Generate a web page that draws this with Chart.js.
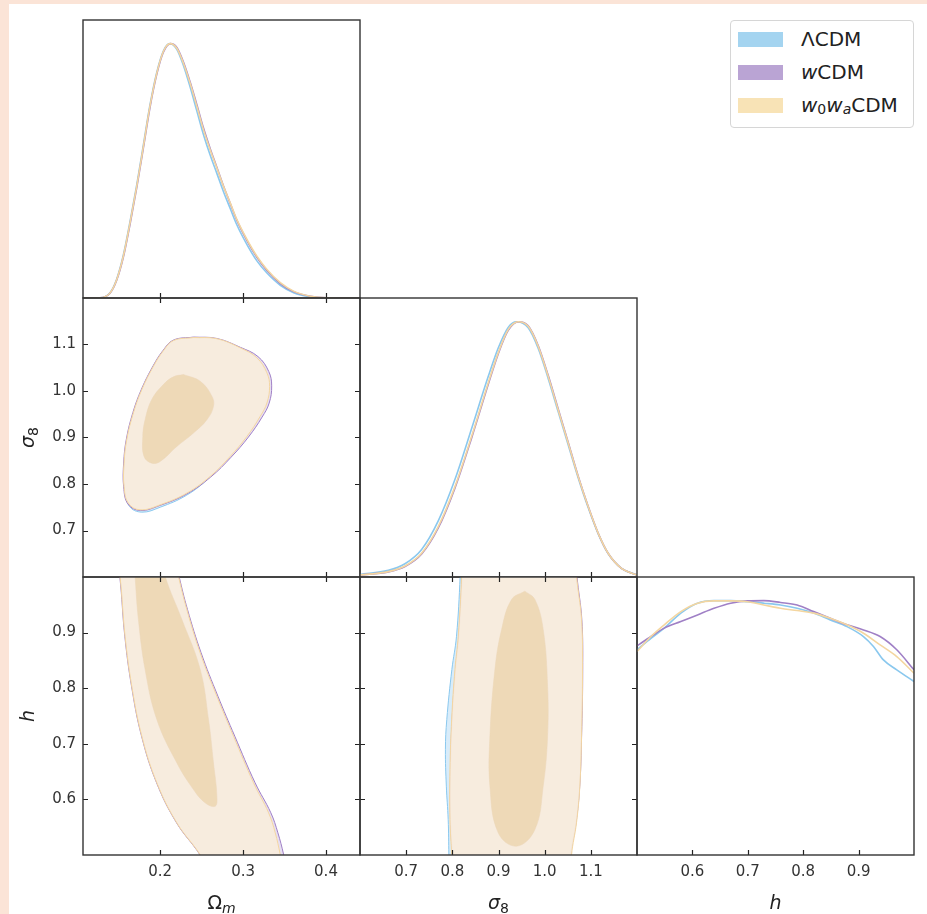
<!DOCTYPE html>
<html>
<head>
<meta charset="utf-8">
<script src="https://cdn.jsdelivr.net/npm/chart.js@4.4.1/dist/chart.umd.min.js"></script>
<style>
  body { margin: 0; background: #fff; }
  #page { position: relative; width: 927px; height: 914px; overflow: hidden; background: #fff; font-family: 'DejaVu Sans', sans-serif; }
  #page canvas { position: absolute; }
  .edge-left { position: absolute; left: 0; top: 0; width: 9px; height: 914px; background: #fbe4d7; }
  .edge-top { position: absolute; left: 0; top: 0; width: 927px; height: 4px; background: #fbe4d7; }
  #legend { position: absolute; left: 730px; top: 20px; width: 182px; height: 106px; border: 1px solid #d6d6d6; border-radius: 4px; background: #fff; z-index: 5; }
  .row { position: absolute; left: 7px; height: 26px; display: flex; align-items: center; font-size: 20px; color: #222; white-space: nowrap; }
  .patch { width: 45px; height: 15px; margin-right: 18px; flex: none; }
  .row sub { font-size: 14px; position: relative; top: 4px; vertical-align: baseline; }
</style>
</head>
<body>
<div id="page">
  <div class="edge-left"></div>
  <div class="edge-top"></div>
  <div id="legend">
    <div class="row" style="top:5px"><span class="patch" style="background:rgb(164,212,240)"></span>ΛCDM</div>
    <div class="row" style="top:38px"><span class="patch" style="background:rgb(186,164,212)"></span><i>w</i>CDM</div>
    <div class="row" style="top:71px"><span class="patch" style="background:rgb(248,227,182)"></span><i>w</i><sub>0</sub><i>w</i><sub><i>a</i></sub>CDM</div>
  </div>
</div>
<script>
// axes
const omRange = [0.107, 0.441];
const s8Range = [0.6, 1.2];
const hRange = [0.5, 1.0];
const pdfRange = [0, 1.093];
const omTicks = [0.2, 0.3, 0.4];
const s8Ticks = [0.7, 0.8, 0.9, 1.0, 1.1];
const hTicks = [0.6, 0.7, 0.8, 0.9];

// series order: LCDM, wCDM, w0waCDM
const lineColors = ['rgb(138,200,238)', 'rgb(160,128,198)', 'rgb(244,214,160)'];
const outerFills = ['rgba(212,234,249,0.9)', 'rgba(228,219,240,0.9)', 'rgba(249,237,221,0.93)'];
const innerFills = ['rgba(168,212,242,0.9)', 'rgba(196,176,222,0.9)', 'rgba(237,216,182,0.97)'];

// 1D marginals [value, density]
const omPdfLcdm = [[0.107,0],[0.1275,0.001],[0.1396,0.021],[0.1477,0.075],[0.1556,0.168],[0.1637,0.300],[0.1718,0.445],[0.1798,0.602],[0.1877,0.758],[0.196,0.888],[0.2039,0.971],[0.2115,1.0],[0.2201,0.978],[0.2281,0.914],[0.2361,0.830],[0.2443,0.735],[0.2523,0.642],[0.2603,0.562],[0.2684,0.490],[0.2764,0.418],[0.2845,0.352],[0.2926,0.287],[0.3047,0.210],[0.3167,0.146],[0.3288,0.098],[0.3449,0.050],[0.3609,0.021],[0.3811,0.005],[0.4013,0.001],[0.441,0]];
const omPdfWcdm = [[0.107,0],[0.1275,0.001],[0.1396,0.019],[0.1477,0.071],[0.1556,0.160],[0.1637,0.290],[0.1718,0.434],[0.1798,0.590],[0.1877,0.748],[0.196,0.880],[0.2039,0.966],[0.2125,1.0],[0.2201,0.985],[0.2281,0.928],[0.2361,0.850],[0.2443,0.760],[0.2523,0.668],[0.2603,0.588],[0.2684,0.514],[0.2764,0.440],[0.2845,0.372],[0.2926,0.305],[0.3047,0.226],[0.3167,0.160],[0.3288,0.108],[0.3449,0.057],[0.3609,0.025],[0.3811,0.007],[0.4013,0.001],[0.441,0]];
const omPdfW0wa = [[0.107,0],[0.1275,0.001],[0.1396,0.020],[0.1477,0.073],[0.1556,0.164],[0.1637,0.295],[0.1718,0.439],[0.1798,0.596],[0.1877,0.753],[0.196,0.884],[0.2039,0.969],[0.212,1.0],[0.2201,0.982],[0.2281,0.923],[0.2361,0.845],[0.2443,0.753],[0.2523,0.661],[0.2603,0.583],[0.2684,0.511],[0.2764,0.439],[0.2845,0.374],[0.2926,0.308],[0.3047,0.230],[0.3167,0.164],[0.3288,0.112],[0.3449,0.060],[0.3609,0.027],[0.3811,0.007],[0.4013,0.001],[0.441,0]];

const s8PdfLcdm = [[0.6,0.010],[0.6613,0.026],[0.6974,0.052],[0.7335,0.108],[0.7695,0.220],[0.8056,0.382],[0.8418,0.582],[0.8777,0.785],[0.8994,0.897],[0.921,0.978],[0.939,1.0],[0.9643,0.976],[0.9859,0.896],[1.0076,0.778],[1.0292,0.648],[1.0509,0.518],[1.0725,0.389],[1.0942,0.272],[1.1158,0.170],[1.1374,0.092],[1.1664,0.034],[1.2,0.008]];
const s8PdfWcdm = [[0.6,0.008],[0.6613,0.020],[0.6974,0.041],[0.7335,0.090],[0.7695,0.192],[0.8056,0.348],[0.8418,0.545],[0.8777,0.754],[0.8994,0.874],[0.921,0.966],[0.944,1.0],[0.9643,0.984],[0.9859,0.907],[1.0076,0.790],[1.0292,0.659],[1.0509,0.528],[1.0725,0.396],[1.0942,0.277],[1.1158,0.172],[1.1374,0.093],[1.1664,0.034],[1.2,0.008]];
const s8PdfW0wa = [[0.6,0.008],[0.6613,0.021],[0.6974,0.043],[0.7335,0.093],[0.7695,0.197],[0.8056,0.354],[0.8418,0.551],[0.8777,0.760],[0.8994,0.878],[0.921,0.969],[0.9427,1.0],[0.9643,0.982],[0.9859,0.904],[1.0076,0.786],[1.0292,0.655],[1.0509,0.525],[1.0725,0.394],[1.0942,0.276],[1.1158,0.172],[1.1374,0.093],[1.1664,0.034],[1.2,0.008]];

const hPdfLcdm = [[0.5,0.807],[0.5252,0.852],[0.5492,0.892],[0.5791,0.951],[0.6092,0.990],[0.639,1.0],[0.6691,1.0],[0.6991,0.996],[0.729,0.990],[0.759,0.983],[0.789,0.970],[0.8189,0.951],[0.8489,0.924],[0.879,0.898],[0.9088,0.859],[0.9268,0.820],[0.9448,0.767],[0.9689,0.728],[1.0,0.682]];
const hPdfWcdm = [[0.5,0.822],[0.5252,0.859],[0.5492,0.892],[0.5791,0.918],[0.6092,0.944],[0.639,0.970],[0.6691,0.990],[0.6991,0.999],[0.729,1.0],[0.759,0.993],[0.789,0.983],[0.8189,0.957],[0.8489,0.931],[0.879,0.905],[0.9088,0.885],[0.9388,0.859],[0.9689,0.807],[1.0,0.728]];
const hPdfW0wa = [[0.5,0.800],[0.5252,0.859],[0.5492,0.905],[0.5791,0.957],[0.6092,0.990],[0.639,0.999],[0.6691,0.999],[0.6991,0.996],[0.729,0.983],[0.759,0.970],[0.789,0.961],[0.8189,0.951],[0.8489,0.931],[0.879,0.905],[0.9088,0.872],[0.9388,0.826],[0.9689,0.780],[1.0,0.715]];

// 2D contours [x, y]: 95% (outer) and 68% (inner)
const omS8OuterLcdm = [[0.2402,1.1145],[0.2684,1.1120],[0.2966,1.0900],[0.3160,1.0680],[0.3270,1.0370],[0.3295,1.0080],[0.3255,0.9720],[0.3175,0.9440],[0.3020,0.9010],[0.2825,0.8570],[0.2590,0.8130],[0.2320,0.7760],[0.2000,0.7500],[0.1780,0.7395],[0.1630,0.7520],[0.1570,0.7920],[0.1568,0.8440],[0.1600,0.8950],[0.1680,0.9530],[0.1782,1.0040],[0.1921,1.0540],[0.2040,1.0870],[0.2160,1.1085],[0.2402,1.1145]];
const omS8OuterWcdm = [[0.2402,1.1160],[0.2684,1.1130],[0.2966,1.0940],[0.3180,1.0740],[0.3310,1.0420],[0.3345,1.0110],[0.3315,0.9740],[0.3230,0.9440],[0.3065,0.9010],[0.2855,0.8575],[0.2610,0.8150],[0.2325,0.7790],[0.2000,0.7540],[0.1760,0.7430],[0.1612,0.7570],[0.1560,0.7940],[0.1560,0.8450],[0.1592,0.8960],[0.1672,0.9540],[0.1775,1.0040],[0.1915,1.0540],[0.2036,1.0875],[0.2160,1.1095],[0.2402,1.1160]];
const omS8OuterW0wa = [[0.2402,1.1150],[0.2684,1.1125],[0.2966,1.0929],[0.3167,1.0713],[0.3288,1.0390],[0.3320,1.0101],[0.3288,0.9743],[0.3207,0.9455],[0.3047,0.9024],[0.2845,0.8593],[0.2603,0.8162],[0.2322,0.7804],[0.2000,0.7552],[0.1758,0.7444],[0.1617,0.7588],[0.1565,0.7946],[0.1565,0.8448],[0.1597,0.8953],[0.1677,0.9528],[0.1779,1.0030],[0.1919,1.0532],[0.2039,1.0866],[0.2160,1.1085],[0.2402,1.1150]];
const omS8InnerLcdm = [[0.2275,1.0340],[0.2478,1.0195],[0.2618,0.9875],[0.2638,0.9660],[0.2560,0.9375],[0.2398,0.9090],[0.2198,0.8800],[0.2000,0.8478],[0.1900,0.8440],[0.1808,0.8585],[0.1793,0.9020],[0.1821,0.9380],[0.1900,0.9810],[0.2038,1.0130],[0.2158,1.0295],[0.2275,1.0340]];
const omS8InnerWcdm = [[0.2285,1.0360],[0.2490,1.0215],[0.2632,0.9890],[0.2650,0.9670],[0.2570,0.9380],[0.2406,0.9092],[0.2204,0.8802],[0.2002,0.8480],[0.1900,0.8445],[0.1806,0.8592],[0.1790,0.9026],[0.1818,0.9388],[0.1898,0.9820],[0.2040,1.0145],[0.2162,1.0312],[0.2285,1.0360]];
const omS8InnerW0wa = [[0.2281,1.0353],[0.2483,1.0209],[0.2624,0.9886],[0.2643,0.9670],[0.2564,0.9384],[0.2402,0.9097],[0.2201,0.8808],[0.2000,0.8485],[0.1899,0.8448],[0.1806,0.8593],[0.1791,0.9024],[0.1819,0.9384],[0.1899,0.9815],[0.2039,1.0138],[0.2160,1.0304],[0.2281,1.0353]];

const omHOuterLcdm = [[0.1480,1.03],[0.1519,1.0014],[0.1580,0.8935],[0.1661,0.8036],[0.1782,0.7137],[0.1963,0.6299],[0.2204,0.5579],[0.2486,0.5004],[0.2586,0.47],[0.3360,0.47],[0.3365,0.5004],[0.3340,0.5399],[0.3275,0.5759],[0.3100,0.6299],[0.2865,0.7137],[0.2668,0.7856],[0.2470,0.8637],[0.2312,0.9416],[0.2214,1.0014],[0.2176,1.03],[0.1480,1.03]];
const omHOuterWcdm = [[0.1474,1.03],[0.1513,1.0014],[0.1574,0.8935],[0.1655,0.8036],[0.1776,0.7137],[0.1957,0.6299],[0.2198,0.5579],[0.2480,0.5004],[0.2580,0.47],[0.3530,0.47],[0.3490,0.5004],[0.3420,0.5399],[0.3335,0.5759],[0.3145,0.6299],[0.2900,0.7137],[0.2697,0.7856],[0.2494,0.8637],[0.2330,0.9416],[0.2228,1.0014],[0.2188,1.03],[0.1474,1.03]];
const omHOuterW0wa = [[0.1477,1.03],[0.1516,1.0014],[0.1577,0.8935],[0.1658,0.8036],[0.1779,0.7137],[0.1960,0.6299],[0.2201,0.5579],[0.2483,0.5004],[0.2583,0.47],[0.3489,0.47],[0.3449,0.5004],[0.3388,0.5399],[0.3308,0.5759],[0.3126,0.6299],[0.2885,0.7137],[0.2684,0.7856],[0.2483,0.8637],[0.2322,0.9416],[0.2221,1.0014],[0.2181,1.03],[0.1477,1.03]];
const omHInnerLcdm = [[0.1688,1.03],[0.1700,1.0014],[0.1740,0.9236],[0.1821,0.8336],[0.1962,0.7437],[0.2203,0.6658],[0.2400,0.6190],[0.2540,0.5950],[0.2658,0.5890],[0.2678,0.6070],[0.2637,0.6658],[0.2577,0.7437],[0.2477,0.8336],[0.2256,0.9236],[0.2056,1.0014],[0.2035,1.03],[0.1688,1.03]];
const omHInnerWcdm = [[0.1684,1.03],[0.1696,1.0014],[0.1736,0.9236],[0.1817,0.8336],[0.1958,0.7437],[0.2199,0.6658],[0.2402,0.6170],[0.2545,0.5930],[0.2668,0.5870],[0.2688,0.6050],[0.2647,0.6658],[0.2587,0.7437],[0.2487,0.8336],[0.2266,0.9236],[0.2063,1.0014],[0.2042,1.03],[0.1684,1.03]];
const omHInnerW0wa = [[0.1686,1.03],[0.1698,1.0014],[0.1738,0.9236],[0.1819,0.8336],[0.1960,0.7437],[0.2201,0.6658],[0.2402,0.6178],[0.2543,0.5939],[0.2664,0.5878],[0.2684,0.6058],[0.2643,0.6658],[0.2583,0.7437],[0.2483,0.8336],[0.2262,0.9236],[0.2060,1.0014],[0.2039,1.03],[0.1686,1.03]];

const s8HOuterLcdm = [[0.8170,1.03],[0.8170,1.0015],[0.8090,0.8935],[0.7990,0.8336],[0.7880,0.7437],[0.7850,0.6900],[0.7870,0.6238],[0.7910,0.5638],[0.7925,0.5004],[0.7930,0.47],[1.0560,0.47],[1.0565,0.5004],[1.0670,0.5579],[1.0745,0.6238],[1.0785,0.7137],[1.0805,0.8336],[1.0785,0.9236],[1.0675,1.0015],[1.0665,1.03],[0.8170,1.03]];
const s8HOuterWcdm = [[0.8215,1.03],[0.8212,1.0015],[0.8140,0.8935],[0.8068,0.8336],[0.7995,0.7437],[0.7960,0.6538],[0.7960,0.5638],[0.7998,0.5004],[0.8008,0.47],[1.0545,0.47],[1.0560,0.5004],[1.0680,0.5579],[1.0760,0.6238],[1.0800,0.7137],[1.0825,0.8336],[1.0805,0.9236],[1.0700,1.0015],[1.0690,1.03],[0.8215,1.03]];
const s8HOuterW0wa = [[0.8201,1.03],[0.8201,1.0015],[0.8128,0.8935],[0.8056,0.8336],[0.7985,0.7437],[0.7948,0.6538],[0.7948,0.5638],[0.7985,0.5004],[0.7995,0.47],[1.0582,0.47],[1.0582,0.5004],[1.0690,0.5579],[1.0762,0.6238],[1.0799,0.7137],[1.0820,0.8336],[1.0799,0.9236],[1.0690,1.0015],[1.0680,1.03],[0.8201,1.03]];
const s8HInnerLcdm = [[0.9560,0.9740],[0.9778,0.9590],[0.9958,0.9050],[1.0053,0.8036],[1.0053,0.7137],[0.9958,0.6238],[0.9778,0.5465],[0.9385,0.5165],[0.8988,0.5405],[0.8806,0.6238],[0.8806,0.7137],[0.8914,0.8336],[0.9058,0.9050],[0.9274,0.9590],[0.9560,0.9740]];
const s8HInnerWcdm = [[0.9578,0.9750],[0.9795,0.9598],[0.9975,0.9060],[1.0070,0.8036],[1.0070,0.7137],[0.9975,0.6238],[0.9795,0.5455],[0.9398,0.5155],[0.9000,0.5395],[0.8820,0.6238],[0.8820,0.7137],[0.8928,0.8336],[0.9073,0.9060],[0.9290,0.9598],[0.9578,0.9750]];
const s8HInnerW0wa = [[0.9571,0.9745],[0.9788,0.9595],[0.9968,0.9056],[1.0063,0.8036],[1.0063,0.7137],[0.9968,0.6238],[0.9788,0.5459],[0.9391,0.5159],[0.8994,0.5399],[0.8814,0.6238],[0.8814,0.7137],[0.8922,0.8336],[0.9067,0.9056],[0.9283,0.9595],[0.9571,0.9745]];

Chart.defaults.font.family = "'DejaVu Sans', sans-serif";
Chart.defaults.color = '#333';

const COLS = [83, 360, 637, 914];
const ROWS = [20, 298, 577, 855];
const page = document.getElementById('page');

// frame box and inward ticks, like matplotlib direction='in'
const frameTicks = {
  id: 'frameTicks',
  afterDraw(chart, args, opts) {
    const { ctx, chartArea: a, scales } = chart;
    const sides = opts.sides || [];
    const len = 5;
    ctx.save();
    ctx.strokeStyle = '#222';
    ctx.lineWidth = 1.2;
    ctx.beginPath();
    scales.x.ticks.forEach(t => {
      const px = Math.round(scales.x.getPixelForValue(t.value)) + 0.5;
      if (sides.includes('bottom')) { ctx.moveTo(px, a.bottom); ctx.lineTo(px, a.bottom - len); }
      if (sides.includes('top')) { ctx.moveTo(px, a.top); ctx.lineTo(px, a.top + len); }
    });
    scales.y.ticks.forEach(t => {
      const py = Math.round(scales.y.getPixelForValue(t.value)) + 0.5;
      if (sides.includes('left')) { ctx.moveTo(a.left, py); ctx.lineTo(a.left + len, py); }
      if (sides.includes('right')) { ctx.moveTo(a.right, py); ctx.lineTo(a.right - len, py); }
    });
    ctx.stroke();
    ctx.strokeStyle = '#333';
    ctx.lineWidth = 1.4;
    ctx.strokeRect(a.left, a.top, a.right - a.left, a.bottom - a.top);
    ctx.restore();
  }
};

// axis titles with a subscript (mathtext style)
function drawMath(ctx, parts, x, y) {
  const fontOf = p => `${p.italic ? 'italic ' : ''}${p.sub ? 14 : 19}px 'DejaVu Sans', sans-serif`;
  let total = 0;
  parts.forEach(p => { ctx.font = fontOf(p); total += ctx.measureText(p.text).width; });
  let cx = x - total / 2;
  parts.forEach(p => {
    ctx.font = fontOf(p);
    ctx.fillText(p.text, cx, y + (p.sub ? 4 : 0));
    cx += ctx.measureText(p.text).width;
  });
}

const axisTitles = {
  id: 'axisTitles',
  afterDraw(chart, args, opts) {
    const { ctx, chartArea: a } = chart;
    ctx.save();
    ctx.fillStyle = '#222';
    ctx.textBaseline = 'alphabetic';
    ctx.textAlign = 'left';
    if (opts.x) drawMath(ctx, opts.x, (a.left + a.right) / 2, a.bottom + 54);
    if (opts.y) {
      ctx.translate(a.left - 49, (a.top + a.bottom) / 2);
      ctx.rotate(-Math.PI / 2);
      drawMath(ctx, opts.y, 0, 0);
    }
    ctx.restore();
  }
};

const toXY = pairs => pairs.map(([x, y]) => ({ x, y }));

function curveSets(curves) {
  return curves.map((c, i) => ({
    data: toXY(c), borderColor: lineColors[i], borderWidth: 1.6, fill: false,
    pointRadius: 0, cubicInterpolationMode: 'monotone'
  })).reverse();
}

function contourSets(outer, inner) {
  const sets = [];
  for (let i = 0; i < 3; i++) {
    sets.push({ data: toXY(outer[i]), fill: 'shape', backgroundColor: outerFills[i], borderColor: lineColors[i], borderWidth: 1, pointRadius: 0, tension: 0.4 });
    sets.push({ data: toXY(inner[i]), fill: 'shape', backgroundColor: innerFills[i], borderColor: innerFills[i], borderWidth: 0.5, pointRadius: 0, tension: 0.4 });
  }
  return sets.reverse(); // first dataset is drawn on top
}

function scaleOpts(ax, dir, size) {
  return {
    type: 'linear', min: ax.range[0], max: ax.range[1], position: dir === 'x' ? 'bottom' : 'left',
    grid: { display: false, drawTicks: false }, border: { display: false },
    afterBuildTicks: s => { s.ticks = ax.ticks.map(v => ({ value: v })); },
    afterFit: s => {
      if (dir === 'x') s.height = size; else s.width = size;
      s.paddingTop = 0; s.paddingBottom = 0; s.paddingLeft = 0; s.paddingRight = 0;
    },
    ticks: { display: !!ax.labels, padding: dir === 'x' ? 8 : 7, autoSkip: false, maxRotation: 0,
             font: { size: 15 }, color: '#333', callback: v => v.toFixed(1) }
  };
}

function makePanel(row, col, xAx, yAx, datasets, sides) {
  const L = yAx.labels ? 74 : 3, B = xAx.labels ? 59 : 3, T = 3, R = 3;
  const w = COLS[col + 1] - COLS[col], h = ROWS[row + 1] - ROWS[row];
  const canvas = document.createElement('canvas');
  canvas.width = w + L + R;
  canvas.height = h + T + B;
  canvas.style.left = (COLS[col] - L) + 'px';
  canvas.style.top = (ROWS[row] - T) + 'px';
  page.appendChild(canvas);
  new Chart(canvas, {
    type: 'line',
    data: { datasets },
    options: {
      responsive: false, animation: false, devicePixelRatio: 1,
      layout: { padding: { top: T, right: R, left: 0, bottom: 0 } },
      elements: { line: { capBezierPoints: false } },
      plugins: {
        legend: { display: false }, tooltip: { enabled: false },
        frameTicks: { sides },
        axisTitles: { x: xAx.labels ? xAx.title : null, y: yAx.labels ? yAx.title : null }
      },
      scales: { x: scaleOpts(xAx, 'x', B), y: scaleOpts(yAx, 'y', L) }
    },
    plugins: [frameTicks, axisTitles]
  });
}

const omTitle = [{ text: 'Ω' }, { text: 'm', sub: true, italic: true }];
const s8Title = [{ text: 'σ', italic: true }, { text: '8', sub: true }];
const hTitle = [{ text: 'h', italic: true }];

const omAx = l => ({ range: omRange, ticks: omTicks, labels: l, title: omTitle });
const s8Ax = l => ({ range: s8Range, ticks: s8Ticks, labels: l, title: s8Title });
const hAx = l => ({ range: hRange, ticks: hTicks, labels: l, title: hTitle });
const pdfAx = { range: pdfRange, ticks: [0.5], labels: false };

makePanel(0, 0, omAx(false), pdfAx, curveSets([omPdfLcdm, omPdfWcdm, omPdfW0wa]), ['bottom']);
makePanel(1, 0, omAx(false), s8Ax(true),
  contourSets([omS8OuterLcdm, omS8OuterWcdm, omS8OuterW0wa], [omS8InnerLcdm, omS8InnerWcdm, omS8InnerW0wa]),
  ['left', 'right', 'top', 'bottom']);
makePanel(1, 1, s8Ax(false), pdfAx, curveSets([s8PdfLcdm, s8PdfWcdm, s8PdfW0wa]), ['bottom']);
makePanel(2, 0, omAx(true), hAx(true),
  contourSets([omHOuterLcdm, omHOuterWcdm, omHOuterW0wa], [omHInnerLcdm, omHInnerWcdm, omHInnerW0wa]),
  ['left', 'right', 'top', 'bottom']);
makePanel(2, 1, s8Ax(true), hAx(false),
  contourSets([s8HOuterLcdm, s8HOuterWcdm, s8HOuterW0wa], [s8HInnerLcdm, s8HInnerWcdm, s8HInnerW0wa]),
  ['left', 'right', 'top', 'bottom']);
makePanel(2, 2, hAx(true), pdfAx, curveSets([hPdfLcdm, hPdfWcdm, hPdfW0wa]), ['bottom']);
</script>
</body>
</html>
